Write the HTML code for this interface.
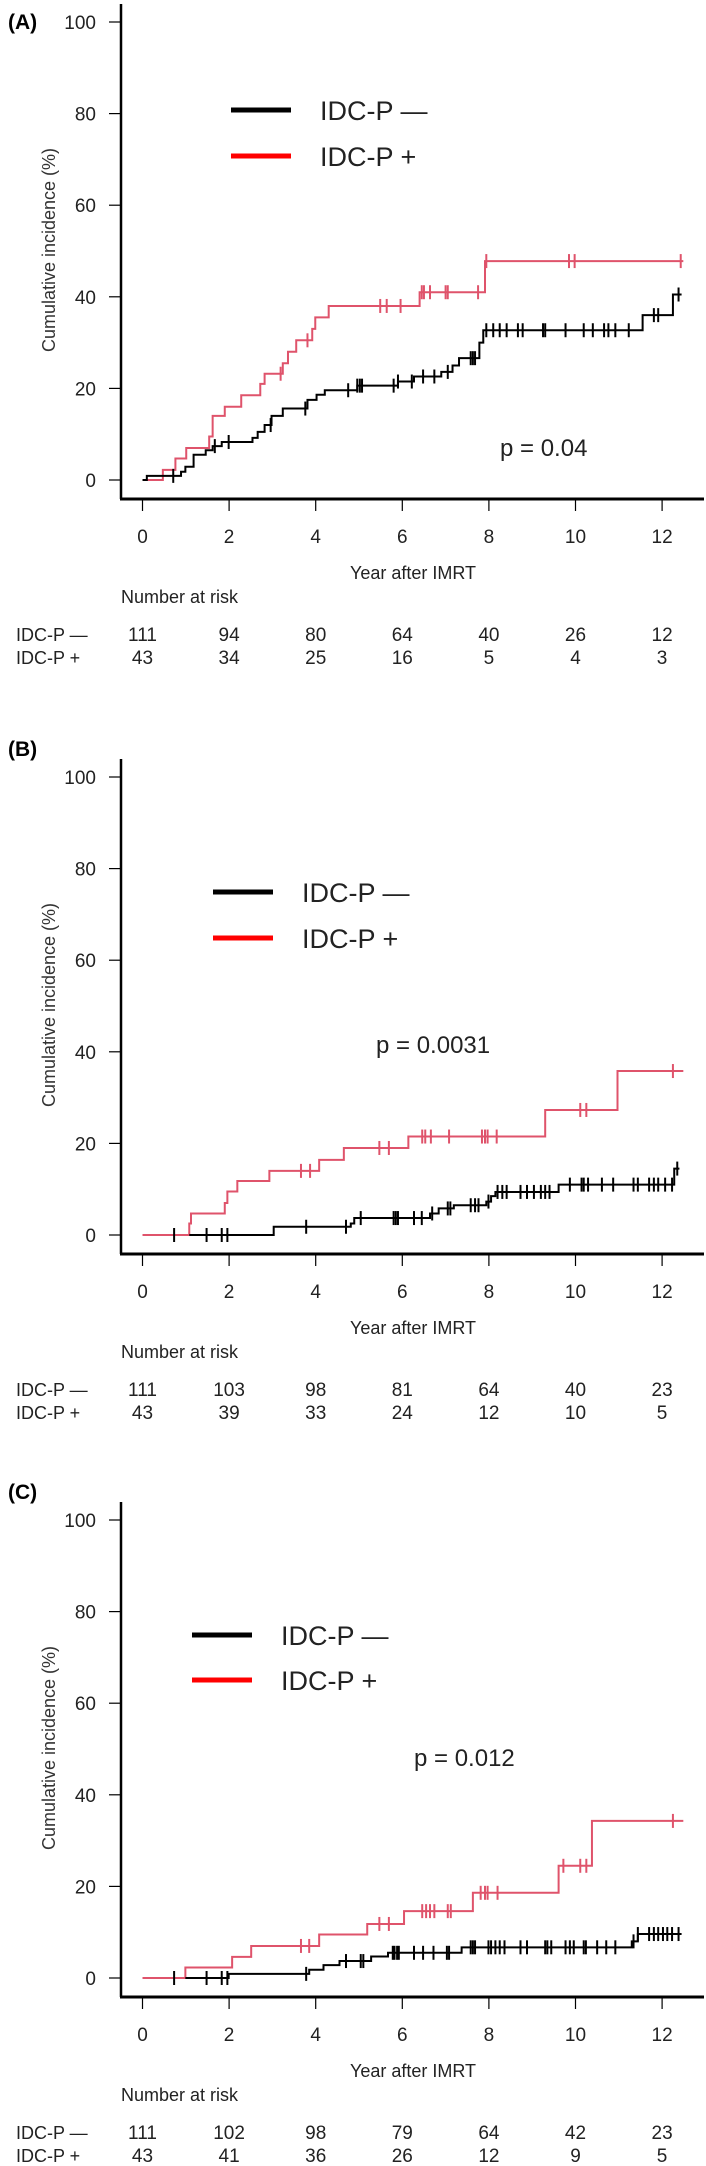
<!DOCTYPE html>
<html><head><meta charset="utf-8"><style>
html,body{margin:0;padding:0;background:#fff;}
svg{display:block;font-family:"Liberation Sans","DejaVu Sans",sans-serif;}
</style></head><body>
<svg id="fig" width="706" height="2166" viewBox="0 0 706 2166" xmlns="http://www.w3.org/2000/svg"></svg>
<script>
// ---- Panel A data ----
const aBlackT = [0,0.10,0.89,0.99,1.18,1.46,1.62,1.83,2.54,2.66,2.82,2.98,3.24,3.81,4.02,4.21,4.96,5.9,6.27,6.9,7.16,7.31,7.78,7.87,11.55,12.25];
const aBlackV = [0,0.9,1.8,2.9,5.5,6.5,7.4,8.3,9.2,10.5,12,14,15.6,17.5,18.6,19.6,20.6,21.5,22.6,23.6,25,26.6,30,32.7,36,40.5];
const aBlackEnd = 12.45;
const aBlackCens = [0.71,1.67,1.99,2.96,3.76,4.75,4.96,5.02,5.07,5.8,5.9,6.22,6.48,6.74,7.05,7.58,7.63,7.68,7.94,8.1,8.25,8.41,8.67,8.78,9.25,9.3,9.77,10.19,10.4,10.66,10.76,10.92,11.23,11.81,11.91,12.38];
const aRedT = [0,0.47,0.76,1.01,1.54,1.62,1.9,2.28,2.72,2.82,3.24,3.36,3.55,3.92,3.99,4.3,6.4,7.91];
const aRedV = [0,2.2,4.7,7,9.5,14,16,18.5,21,23.2,25.5,28,30.5,33,35.5,38,41,47.8];
const aRedEnd = 12.49;
const aRedCens = [3.19,3.81,5.49,5.64,5.96,6.45,6.5,6.64,7.0,7.05,7.75,7.94,9.85,9.98,12.43];
const aRiskNeg = [111,94,80,64,40,26,12];
const aRiskPos = [43,34,25,16,5,4,3];
// ---- Panel B data ----
const bBlackT = [1.08,3.03,4.81,4.89,6.64,6.84,7.19,7.94,8.05,8.15,9.61,12.28];
const bBlackV = [0,1.8,2.5,3.7,4.7,5.8,6.5,7.3,8.5,9.4,11,14.5];
const bBlackEnd = 12.4;
const bBlackCens = [0.73,1.48,1.83,1.96,3.78,4.7,5.04,5.8,5.85,5.9,6.27,6.45,6.69,7.05,7.11,7.58,7.68,7.76,7.99,8.2,8.31,8.41,8.73,8.88,9.04,9.2,9.3,9.4,9.87,10.14,10.19,10.29,10.61,10.87,11.34,11.44,11.7,11.81,11.91,12.07,12.23,12.35];
const bRedT = [0,1.08,1.12,1.9,1.96,2.19,2.93,4.08,4.65,6.14,9.3,10.97];
const bRedV = [0,2.5,4.7,7,9.5,11.8,14,16.4,19,21.5,27.3,35.8];
const bRedEnd = 12.49;
const bRedCens = [3.66,3.87,5.47,5.69,6.46,6.53,6.66,7.08,7.84,7.91,7.97,8.18,10.11,10.25,12.25];
const bRiskNeg = [111,103,98,81,64,40,23];
const bRiskPos = [43,39,33,24,12,10,5];
// ---- Panel C data ----
const cBlackT = [0.99,1.99,3.85,4.18,4.55,5.28,5.67,7.37,11.3,11.44];
const cBlackV = [0,0.9,1.8,2.8,3.7,4.7,5.5,6.7,8,9.6];
const cBlackEnd = 12.45;
const cBlackCens = [0.73,1.48,1.83,1.96,3.78,4.7,5.04,5.1,5.78,5.82,5.88,5.92,6.27,6.48,6.72,7.03,7.08,7.58,7.63,7.68,7.99,8.05,8.15,8.25,8.36,8.73,8.88,9.3,9.35,9.44,9.77,9.87,9.96,10.19,10.24,10.5,10.71,10.92,11.34,11.44,11.7,11.81,11.91,12.02,12.12,12.23,12.38];
const cRedT = [0,0.99,2.07,2.51,4.08,5.19,6.04,7.63,9.61,10.38];
const cRedV = [0,2.3,4.6,7,9.5,11.8,14.6,18.6,24.5,34.3];
const cRedEnd = 12.49;
const cRedCens = [3.66,3.85,5.47,5.69,6.46,6.55,6.64,6.74,7.05,7.12,7.81,7.91,7.97,8.2,9.72,10.11,10.25,12.25];
const cRiskNeg = [111,102,98,79,64,42,23];
const cRiskPos = [43,41,36,26,12,9,5];

const xTicks = [0,2,4,6,8,10,12];
const yTicks = [0,20,40,60,80,100];

const NS = "http://www.w3.org/2000/svg";
const svg = document.getElementById('fig');
function mk(tag, attrs, parent){
  const e = document.createElementNS(NS, tag);
  for (const k in attrs) e.setAttribute(k, attrs[k]);
  (parent||svg).appendChild(e);
  return e;
}
function xs(t){ return 142.5 + t*43.3; }

const panels = [
  {id:'a', label:'(A)', y0:480, labelY:29, bT:aBlackT,bV:aBlackV,bE:aBlackEnd,bC:aBlackCens,rT:aRedT,rV:aRedV,rE:aRedEnd,rC:aRedCens,rn:aRiskNeg,rp:aRiskPos,
   leg:{lx:231,tx:320,y1:-370,y2:-324}, p:{text:'p = 0.04',x:500,y:-24}},
  {id:'b', label:'(B)', y0:1235, labelY:756, bT:bBlackT,bV:bBlackV,bE:bBlackEnd,bC:bBlackCens,rT:bRedT,rV:bRedV,rE:bRedEnd,rC:bRedCens,rn:bRiskNeg,rp:bRiskPos,
   leg:{lx:213,tx:302,y1:-343,y2:-297}, p:{text:'p = 0.0031',x:376,y:-182}},
  {id:'c', label:'(C)', y0:1978, labelY:1499, bT:cBlackT,bV:cBlackV,bE:cBlackEnd,bC:cBlackCens,rT:cRedT,rV:cRedV,rE:cRedEnd,rC:cRedCens,rn:cRiskNeg,rp:cRiskPos,
   leg:{lx:192,tx:281,y1:-343,y2:-298}, p:{text:'p = 0.012',x:414,y:-212}}
];

panels.forEach(P => {
  const y0 = P.y0;
  const ys = v => y0 - v*4.58;
  const g = mk('g', {});
  
  

  const lab = mk('text', {x:8, y:P.labelY, 'font-size':21, 'font-weight':'bold', fill:'#000'}, g);
  lab.textContent = P.label;
  
  

  const ya = mk('line', {x1:121, y1:y0-476, x2:121, y2:y0+19, stroke:'#000', 'stroke-width':2.5}, g);
  
  
  const xa = mk('line', {x1:120, y1:y0+19, x2:704, y2:y0+19, stroke:'#000', 'stroke-width':3}, g);
  
  

  yTicks.forEach(v => {
    mk('line', {x1:109, y1:ys(v), x2:121, y2:ys(v), stroke:'#000', 'stroke-width':1.2}, g);
    const t = mk('text', {x:96, y:ys(v)+7, 'font-size':19, 'text-anchor':'end', fill:'#222'}, g);
    t.textContent = v;
    
    
  });
  xTicks.forEach((v,i) => {
    mk('line', {x1:xs(v), y1:y0+19, x2:xs(v), y2:y0+31, stroke:'#000', 'stroke-width':1.2}, g);
    const t = mk('text', {x:xs(v), y:y0+63, 'font-size':19, 'text-anchor':'middle', fill:'#222'}, g);
    t.textContent = v;
    
    
    const n1 = mk('text', {x:xs(v), y:y0+161, 'font-size':19, 'text-anchor':'middle', fill:'#222'}, g);
    n1.textContent = P.rn[i];
    
    
    const n2 = mk('text', {x:xs(v), y:y0+184, 'font-size':19, 'text-anchor':'middle', fill:'#222'}, g);
    n2.textContent = P.rp[i];
    
    
  });

  const yl = mk('text', {x:0, y:0, 'font-size':18, 'text-anchor':'middle', fill:'#333', transform:`translate(55,${y0-230}) rotate(-90)`}, g);
  yl.textContent = 'Cumulative incidence (%)';
  
  

  const xl = mk('text', {x:413, y:y0+99, 'font-size':18, 'text-anchor':'middle', fill:'#222'}, g);
  xl.textContent = 'Year after IMRT';
  
  

  const nr = mk('text', {x:121, y:y0+123, 'font-size':18, fill:'#222'}, g);
  nr.textContent = 'Number at risk';
  
  
  const r1 = mk('text', {x:16, y:y0+161, 'font-size':18, fill:'#222'}, g);
  r1.textContent = 'IDC-P \u2014';
  
  
  const r2 = mk('text', {x:16, y:y0+184, 'font-size':18, fill:'#222'}, g);
  r2.textContent = 'IDC-P +';
  
  

  const L = P.leg;
  const l1 = mk('line', {x1:L.lx, y1:y0+L.y1, x2:L.lx+60, y2:y0+L.y1, stroke:'#000', 'stroke-width':5}, g);
  
  
  const lt1 = mk('text', {x:L.tx, y:y0+L.y1+10, 'font-size':27, fill:'#222'}, g);
  lt1.textContent = 'IDC-P \u2014';
  
  
  const l2 = mk('line', {x1:L.lx, y1:y0+L.y2, x2:L.lx+60, y2:y0+L.y2, stroke:'#ff0000', 'stroke-width':5}, g);
  
  
  const lt2 = mk('text', {x:L.tx, y:y0+L.y2+10, 'font-size':27, fill:'#222'}, g);
  lt2.textContent = 'IDC-P +';
  
  

  const pt = mk('text', {x:P.p.x, y:y0+P.p.y, 'font-size':24, fill:'#222'}, g);
  pt.textContent = P.p.text;
  
  

  function curve(T, V, end, C, color, name){
    let d = `M${xs(T[0])},${ys(V[0])}`;
    for (let i=1;i<T.length;i++){ d += ` H${xs(T[i])} V${ys(V[i])}`; }
    d += ` H${xs(end)}`;
    const p = mk('path', {d, fill:'none', stroke:color, 'stroke-width':2}, g);
    
    
    C.forEach(c => {
      let v = V[0];
      for (let i=0;i<T.length;i++) if (T[i] <= c) v = V[i];
      const m = mk('line', {x1:xs(c), y1:ys(v)-7, x2:xs(c), y2:ys(v)+7, stroke:color, 'stroke-width':2}, g);
      
      
    });
  }
  curve(P.rT, P.rV, P.rE, P.rC, '#DF536B', 'idc-p-positive');
  curve(P.bT, P.bV, P.bE, P.bC, '#000', 'idc-p-negative');
});
</script>
</body></html>
